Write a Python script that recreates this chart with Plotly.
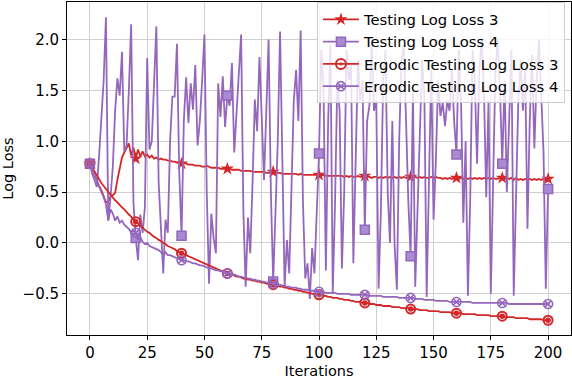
import plotly.graph_objects as go

# log loss curves over 200 iterations, markers every 20 iterations
iterations = list(range(201))

testing_3 = [
    0.78, 0.72, 0.66, 0.60, 0.56, 0.52, 0.45, 0.40, 0.41, 0.46,
    0.47, 0.49, 0.62, 0.74, 0.84, 0.89, 0.94, 0.98, 0.86, 0.94,
    0.83, 0.92, 0.85, 0.90, 0.85, 0.87, 0.84, 0.86, 0.83, 0.84,
    0.82, 0.83, 0.82, 0.82, 0.81, 0.81, 0.80, 0.80, 0.79, 0.79,
    0.78, 0.79, 0.78, 0.77, 0.77, 0.77, 0.76, 0.76, 0.76, 0.75,
    0.75, 0.76, 0.75, 0.74, 0.74, 0.74, 0.74, 0.73, 0.73, 0.73,
    0.73, 0.73, 0.72, 0.72, 0.72, 0.72, 0.71, 0.71, 0.71, 0.71,
    0.71, 0.70, 0.70, 0.70, 0.70, 0.70, 0.70, 0.69, 0.69, 0.69,
    0.70, 0.69, 0.69, 0.69, 0.68, 0.68, 0.68, 0.68, 0.68, 0.68,
    0.68, 0.67, 0.68, 0.67, 0.67, 0.67, 0.67, 0.67, 0.67, 0.67,
    0.67, 0.66, 0.67, 0.66, 0.66, 0.66, 0.66, 0.66, 0.66, 0.66,
    0.66, 0.65, 0.66, 0.65, 0.66, 0.65, 0.65, 0.66, 0.65, 0.65,
    0.66, 0.65, 0.65, 0.64, 0.65, 0.65, 0.64, 0.65, 0.64, 0.65,
    0.64, 0.65, 0.64, 0.65, 0.64, 0.65, 0.64, 0.65, 0.64, 0.64,
    0.65, 0.64, 0.65, 0.64, 0.65, 0.64, 0.65, 0.64, 0.64, 0.65,
    0.64, 0.65, 0.64, 0.64, 0.63, 0.64, 0.63, 0.64, 0.63, 0.64,
    0.64, 0.63, 0.64, 0.63, 0.64, 0.63, 0.64, 0.63, 0.64, 0.63,
    0.64, 0.63, 0.64, 0.63, 0.64, 0.63, 0.64, 0.63, 0.63, 0.64,
    0.64, 0.63, 0.64, 0.63, 0.64, 0.62, 0.64, 0.62, 0.63, 0.62,
    0.63, 0.62, 0.63, 0.62, 0.63, 0.62, 0.63, 0.62, 0.63, 0.62,
    0.63,
]

testing_4 = [
    0.78, 0.68, 0.62, 0.55, 0.85, 1.25, 1.60, 2.22, 0.22, 0.45,
    0.75, 1.30, 1.62, 1.45, 1.88, 0.90, 0.96, 1.50, 2.15, 0.40,
    0.05, -0.17, 0.28, 0.10, 0.35, 1.82, 0.92, 1.00, 1.50, 2.13,
    0.60, 0.10, -0.30, 0.23, 0.10, 1.00, 1.44, 1.44, 1.96, 0.70,
    0.07, 1.20, 1.63, 1.18, 1.57, 1.31, 1.75, 0.96, 1.20, 1.60,
    2.05, 0.50, -0.40, 0.29, 0.05, -0.10, 1.57, 1.24, 1.64, 1.14,
    1.45, 1.35, 1.77, 0.89, 1.30, 1.70, 2.05, 0.30, -0.43, 0.25,
    -0.10, 0.60, 1.41, 1.10, 1.83, 1.24, 0.62, 1.30, 2.00, 0.50,
    -0.38, 0.30, 1.00, 2.08, 0.60, -0.43, 0.03, -0.30, 0.55, 1.40,
    1.70, 1.20, 2.09, 0.40, -0.35, -0.20, -0.55, -0.05, -0.30, 0.40,
    0.88, 1.90, 1.50, -0.27, 1.20, 1.95, -0.50, 0.40, 1.60, 1.30,
    -0.25, 0.50, 1.90, 1.60, 1.75, -0.20, 0.90, 1.80, 1.40, 1.60,
    0.13, 1.20, 1.35, 2.00, 1.30, 1.40, -0.45, 0.30, 1.60, 1.90,
    0.50, 0.00, 1.20, -0.02, -0.46, 1.00, 1.80, 1.95, 1.20, 0.40,
    -0.13, 1.50, -0.43, 0.30, 1.20, 1.80, 1.45, -0.53, 0.60, 1.70,
    0.23, 0.80, 1.60, 1.25, 1.38, 1.15, 1.40, 1.30, 1.70, 1.20,
    0.87, 1.90, 1.40, 0.20, 1.00, -0.52, 0.42, 1.90, 1.60, 0.78,
    1.70, 2.00, 1.50, 0.45, 1.40, -0.50, 0.60, 1.70, 2.00, 1.50,
    0.78, 1.60, 0.50, 1.30, 1.90, -0.52, 0.41, 1.40, 1.80, 1.30,
    1.70, 0.14, 1.20, 1.85, 0.93, 1.60, 2.00, 1.40, 0.90, -0.45,
    0.53,
]

ergodic_3 = [
    0.78, 0.74, 0.70, 0.66, 0.63, 0.59, 0.56, 0.53, 0.50, 0.47,
    0.45, 0.42, 0.40, 0.37, 0.35, 0.33, 0.30, 0.28, 0.26, 0.23,
    0.21, 0.19, 0.17, 0.15, 0.13, 0.11, 0.10, 0.08, 0.06, 0.05,
    0.03, 0.02, 0.00, -0.01, -0.03, -0.04, -0.05, -0.06, -0.08, -0.09,
    -0.10, -0.11, -0.12, -0.13, -0.14, -0.15, -0.16, -0.17, -0.18, -0.19,
    -0.20, -0.21, -0.22, -0.23, -0.24, -0.25, -0.26, -0.27, -0.28, -0.29,
    -0.30, -0.31, -0.31, -0.32, -0.33, -0.33, -0.34, -0.35, -0.35, -0.36,
    -0.36, -0.37, -0.37, -0.38, -0.38, -0.39, -0.39, -0.40, -0.40, -0.41,
    -0.41, -0.42, -0.42, -0.43, -0.43, -0.44, -0.44, -0.45, -0.45, -0.46,
    -0.46, -0.47, -0.47, -0.48, -0.48, -0.49, -0.49, -0.50, -0.50, -0.51,
    -0.51, -0.51, -0.52, -0.52, -0.53, -0.53, -0.54, -0.54, -0.54, -0.55,
    -0.55, -0.56, -0.56, -0.56, -0.57, -0.57, -0.58, -0.58, -0.58, -0.59,
    -0.59, -0.59, -0.60, -0.60, -0.60, -0.61, -0.61, -0.61, -0.62, -0.62,
    -0.62, -0.62, -0.63, -0.63, -0.63, -0.63, -0.64, -0.64, -0.64, -0.64,
    -0.65, -0.65, -0.65, -0.65, -0.66, -0.66, -0.66, -0.66, -0.67, -0.67,
    -0.67, -0.67, -0.67, -0.68, -0.68, -0.68, -0.68, -0.68, -0.69, -0.69,
    -0.69, -0.69, -0.69, -0.70, -0.70, -0.70, -0.70, -0.70, -0.70, -0.71,
    -0.71, -0.71, -0.71, -0.71, -0.71, -0.72, -0.72, -0.72, -0.72, -0.72,
    -0.72, -0.73, -0.73, -0.73, -0.73, -0.73, -0.74, -0.74, -0.74, -0.74,
    -0.74, -0.74, -0.75, -0.75, -0.75, -0.75, -0.75, -0.75, -0.76, -0.76,
    -0.76,
]

ergodic_4 = [
    0.78, 0.72, 0.66, 0.60, 0.55, 0.50, 0.45, 0.38, 0.22, 0.33,
    0.29, 0.22, 0.26, 0.20, 0.22, 0.18, 0.16, 0.14, 0.10, 0.12,
    0.10, 0.03, 0.06, 0.01, -0.01, 0.00, -0.03, -0.04, -0.05, -0.06,
    -0.07, -0.09, -0.12, -0.09, -0.12, -0.12, -0.13, -0.14, -0.15, -0.16,
    -0.17, -0.17, -0.18, -0.18, -0.19, -0.20, -0.20, -0.21, -0.22, -0.22,
    -0.23, -0.24, -0.25, -0.25, -0.26, -0.27, -0.27, -0.28, -0.28, -0.29,
    -0.30, -0.30, -0.31, -0.31, -0.32, -0.33, -0.33, -0.34, -0.34, -0.35,
    -0.35, -0.36, -0.36, -0.37, -0.37, -0.38, -0.38, -0.39, -0.39, -0.39,
    -0.40, -0.40, -0.41, -0.41, -0.42, -0.42, -0.43, -0.43, -0.44, -0.44,
    -0.44, -0.45, -0.45, -0.46, -0.46, -0.46, -0.47, -0.47, -0.47, -0.48,
    -0.48, -0.48, -0.48, -0.49, -0.49, -0.49, -0.49, -0.49, -0.50, -0.50,
    -0.50, -0.50, -0.50, -0.50, -0.51, -0.51, -0.51, -0.51, -0.51, -0.51,
    -0.51, -0.51, -0.52, -0.52, -0.52, -0.52, -0.52, -0.52, -0.53, -0.53,
    -0.53, -0.53, -0.53, -0.53, -0.53, -0.54, -0.54, -0.54, -0.54, -0.54,
    -0.54, -0.54, -0.55, -0.55, -0.55, -0.55, -0.56, -0.56, -0.56, -0.56,
    -0.56, -0.57, -0.57, -0.57, -0.57, -0.57, -0.57, -0.58, -0.58, -0.58,
    -0.58, -0.58, -0.58, -0.58, -0.58, -0.58, -0.58, -0.59, -0.59, -0.59,
    -0.59, -0.59, -0.59, -0.59, -0.59, -0.59, -0.59, -0.59, -0.59, -0.59,
    -0.59, -0.59, -0.59, -0.60, -0.60, -0.60, -0.60, -0.60, -0.60, -0.60,
    -0.60, -0.60, -0.60, -0.60, -0.60, -0.60, -0.60, -0.60, -0.60, -0.60,
    -0.60,
]

RED = "#d62728"
PURPLE = "#9467bd"
MARK_EVERY = 20

star = dict(symbol="star", size=10, color=RED, line=dict(width=0))
square = dict(symbol="square", size=9, color="#a88bd0", line=dict(width=1.5, color=PURPLE))
ring = dict(symbol="circle-open", size=9, color=RED, line=dict(width=2, color=RED))
disk = dict(symbol="circle", size=5.5, color=RED, line=dict(width=0))
cross = dict(symbol="circle-x-open", size=9, color=PURPLE, line=dict(width=1.6, color=PURPLE))
legend_ring = dict(symbol="circle-open-dot", size=10, color=RED, line=dict(width=2, color=RED))

# name, values, color, marker layers on the plot, legend marker
series = [
    ("Testing Log Loss 3", testing_3, RED, [star], star),
    ("Testing Log Loss 4", testing_4, PURPLE, [square], square),
    ("Ergodic Testing Log Loss 3", ergodic_3, RED, [ring, disk], legend_ring),
    ("Ergodic Testing Log Loss 4", ergodic_4, PURPLE, [cross], cross),
]

fig = go.Figure()
for name, values, color, layers, leg_marker in series:
    fig.add_trace(go.Scatter(
        x=iterations, y=values, mode="lines",
        line=dict(color=color, width=1.8),
        showlegend=False, hoverinfo="skip",
    ))
    for m in layers:
        fig.add_trace(go.Scatter(
            x=iterations[::MARK_EVERY], y=values[::MARK_EVERY], mode="markers",
            marker=m, showlegend=False,
        ))
    # legend entry with line + marker sample
    fig.add_trace(go.Scatter(
        x=[None], y=[None], mode="lines+markers", name=name,
        line=dict(color=color, width=1.8), marker=leg_marker,
    ))

fig.update_layout(
    width=572, height=380,
    margin=dict(l=67, r=1, t=2, b=45),
    paper_bgcolor="white", plot_bgcolor="white",
    font=dict(family="DejaVu Sans", size=14, color="black"),
    legend=dict(
        x=0.988, y=0.999, xanchor="right", yanchor="top",
        bgcolor="rgba(255,255,255,0.8)", bordercolor="#cccccc", borderwidth=1,
        font=dict(size=14.8), itemwidth=36,
    ),
    xaxis=dict(
        title=dict(text="Iterations", font=dict(size=14.5), standoff=4),
        range=[-10, 210], tickvals=[0, 25, 50, 75, 100, 125, 150, 175, 200],
        showgrid=True, gridcolor="#d0d0d0", gridwidth=1.2, zeroline=False,
        showline=True, linecolor="black", linewidth=1, mirror=True,
        ticks="outside", ticklen=4, tickcolor="black",
        tickfont=dict(size=15),
    ),
    yaxis=dict(
        title=dict(text="Log Loss", font=dict(size=14.5), standoff=6),
        range=[-0.905, 2.37], tickvals=[-0.5, 0.0, 0.5, 1.0, 1.5, 2.0],
        tickformat=".1f",
        showgrid=True, gridcolor="#d0d0d0", gridwidth=1.2, zeroline=False,
        showline=True, linecolor="black", linewidth=1, mirror=True,
        ticks="outside", ticklen=4, tickcolor="black",
        tickfont=dict(size=15),
    ),
)

fig.write_html(
    "out.html",
    config={"displayModeBar": False},
    post_script="document.body.style.margin = '0';",
)
